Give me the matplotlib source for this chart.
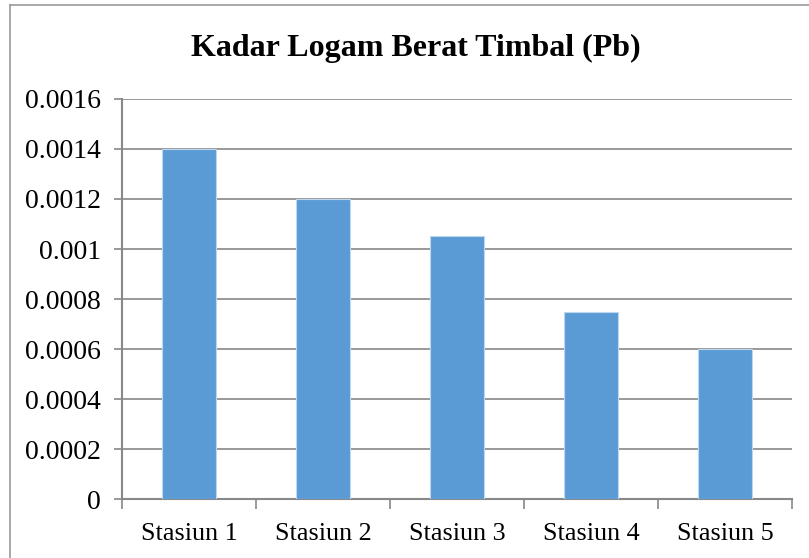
import matplotlib.pyplot as plt
import numpy as np

stations = ['Stasiun 1', 'Stasiun 2', 'Stasiun 3', 'Stasiun 4', 'Stasiun 5']
pb_values = [0.0014, 0.0012, 0.00105, 0.00075, 0.0006]
y_ticks = [0, 0.0002, 0.0004, 0.0006, 0.0008, 0.001, 0.0012, 0.0014, 0.0016]
y_labels = ['0', '0.0002', '0.0004', '0.0006', '0.0008', '0.001', '0.0012', '0.0014', '0.0016']

plt.rcParams['font.family'] = ['Liberation Serif', 'DejaVu Serif']

fig = plt.figure(figsize=(8.09, 5.58), dpi=100)
ax = fig.add_axes([0.1508, 0.1057, 0.8282, 0.7169])

x = np.arange(len(stations))
ax.bar(x, pb_values, width=0.4, color='#5B9BD5', edgecolor='#BDD7EE', linewidth=0.8, zorder=3)

ax.set_xlim(-0.5, len(stations) - 0.5)
ax.set_ylim(0, 0.0016)
ax.set_yticks(y_ticks)
ax.set_yticklabels(y_labels, fontsize=20)
ax.yaxis.grid(True, color='#888888', linewidth=1.2, zorder=0)

# category labels centered, ticks on the boundaries
ax.set_xticks(x)
ax.set_xticklabels(stations, fontsize=18.8)
ax.tick_params(axis='x', length=0, pad=17)
ax.set_xticks(np.arange(-0.5, len(stations)), minor=True)
ax.tick_params(axis='x', which='minor', length=7, width=1.2, color='#888888')
ax.tick_params(axis='y', length=6, width=1.2, color='#888888', pad=9)

for s in ['top', 'right']:
    ax.spines[s].set_visible(False)
for s in ['left', 'bottom']:
    ax.spines[s].set_color('#888888')
    ax.spines[s].set_linewidth(1.5)

fig.text(0.514, 0.914, 'Kadar Logam Berat Timbal (Pb)', ha='center', va='center',
         fontsize=23, fontweight='bold')

# chart frame (only left and top edges show in the crop)
fig.add_artist(plt.Line2D([0.0124, 0.0124], [0, 0.991], color='#999999', linewidth=1.2))
fig.add_artist(plt.Line2D([0.0124, 1.0], [0.991, 0.991], color='#999999', linewidth=1.2))

fig.savefig('out.png', dpi=100)
